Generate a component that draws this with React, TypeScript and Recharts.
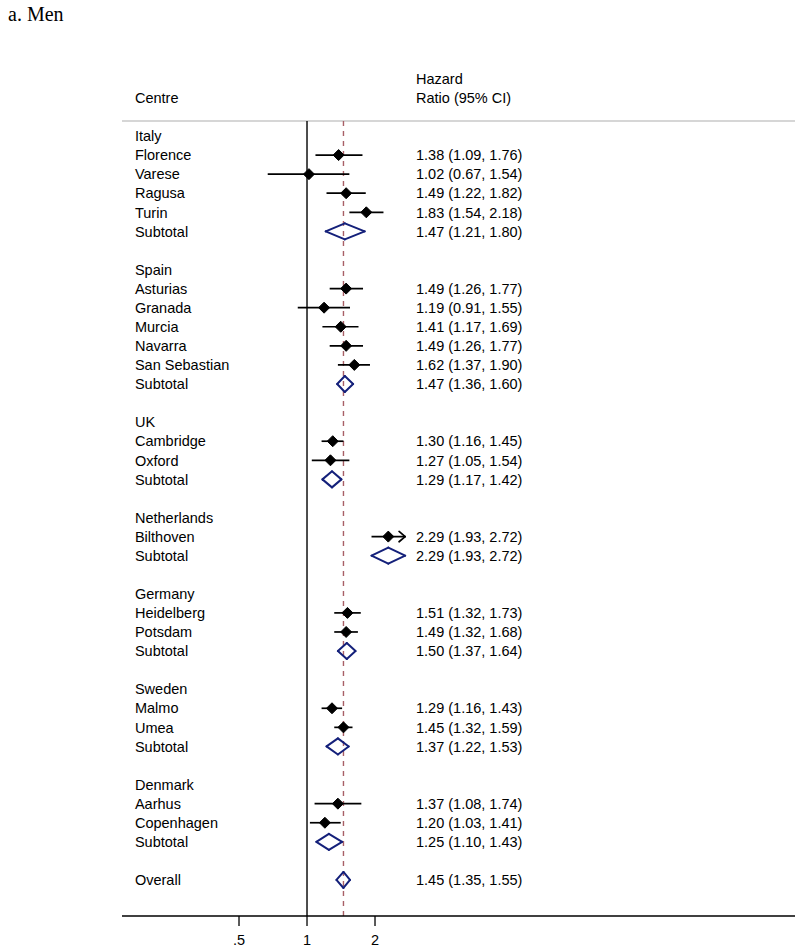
import { ComposedChart, XAxis, YAxis, Scatter, ReferenceLine } from "recharts";

// one entry per row of the forest plot, "" = spacer row
const centres = [
  "Italy", "Florence", "Varese", "Ragusa", "Turin", "Subtotal", "",
  "Spain", "Asturias", "Granada", "Murcia", "Navarra", "San Sebastian", "Subtotal", "",
  "UK", "Cambridge", "Oxford", "Subtotal", "",
  "Netherlands", "Bilthoven", "Subtotal", "",
  "Germany", "Heidelberg", "Potsdam", "Subtotal", "",
  "Sweden", "Malmo", "Umea", "Subtotal", "",
  "Denmark", "Aarhus", "Copenhagen", "Subtotal", "",
  "Overall",
];

const hazardRatio = [
  null, 1.38, 1.02, 1.49, 1.83, 1.47, null,
  null, 1.49, 1.19, 1.41, 1.49, 1.62, 1.47, null,
  null, 1.30, 1.27, 1.29, null,
  null, 2.29, 2.29, null,
  null, 1.51, 1.49, 1.50, null,
  null, 1.29, 1.45, 1.37, null,
  null, 1.37, 1.20, 1.25, null,
  1.45,
];

const lowerCI = [
  null, 1.09, 0.67, 1.22, 1.54, 1.21, null,
  null, 1.26, 0.91, 1.17, 1.26, 1.37, 1.36, null,
  null, 1.16, 1.05, 1.17, null,
  null, 1.93, 1.93, null,
  null, 1.32, 1.32, 1.37, null,
  null, 1.16, 1.32, 1.22, null,
  null, 1.08, 1.03, 1.10, null,
  1.35,
];

const upperCI = [
  null, 1.76, 1.54, 1.82, 2.18, 1.80, null,
  null, 1.77, 1.55, 1.69, 1.77, 1.90, 1.60, null,
  null, 1.45, 1.54, 1.42, null,
  null, 2.72, 2.72, null,
  null, 1.73, 1.68, 1.64, null,
  null, 1.43, 1.59, 1.53, null,
  null, 1.74, 1.41, 1.43, null,
  1.55,
];

const overallHR = 1.45;
const xTicks = [0.5, 1, 2];
const xTickLabels = [".5", "1", "2"];

// layout constants (log2 units on x, row units on y)
const X_DOMAIN = [-2.7206, 7.176];
const Y_DOMAIN = [-7.129, 40.889];
const TOP_RULE = -0.786;
const LABEL_X = -2.53;
const EST_X = 1.603;
const ARROW_ABOVE = 2.5;
const DIAMOND_H = 0.42;
const FONT = "'Liberation Sans', Arial, Helvetica, sans-serif";
const NAVY = "#14207a";

const log2 = (v: number) => Math.log2(v);
const fmt = (v: number) => v.toFixed(2);
const isPooled = (name: string) => name === "Subtotal" || name === "Overall";

const rows = centres.map((name, i) => ({
  name,
  row: i,
  hr: hazardRatio[i],
  lo: lowerCI[i],
  hi: upperCI[i],
}));

const studyRows = rows.filter((r) => r.hr != null && !isPooled(r.name));
const pooledRows = rows.filter((r) => r.hr != null && isPooled(r.name));

const markerData = studyRows.map((r) => ({ x: log2(r.hr as number), y: r.row }));
const labelData = rows
  .filter((r) => r.name !== "")
  .map((r) => ({ x: LABEL_X, y: r.row, text: r.name }));
const estData = rows
  .filter((r) => r.hr != null)
  .map((r) => ({
    x: EST_X,
    y: r.row,
    text: `${fmt(r.hr as number)} (${fmt(r.lo as number)}, ${fmt(r.hi as number)})`,
  }));
const headerData = [
  { x: LABEL_X, y: -2, text: "Centre" },
  { x: EST_X, y: -3, text: "Hazard" },
  { x: EST_X, y: -2, text: "Ratio (95% CI)" },
];

const TextShape = (props: any) => {
  const { cx, cy, payload } = props;
  return (
    <text x={cx} y={cy} dy="0.36em" fontSize={14.5} fontFamily={FONT} fill="#000" textAnchor="start">
      {payload.text}
    </text>
  );
};

const DiamondMarker = (props: any) => {
  const { cx, cy } = props;
  const s = 5.5;
  return (
    <polygon
      points={`${cx - s},${cy} ${cx},${cy - s} ${cx + s},${cy} ${cx},${cy + s}`}
      fill="#000"
      stroke="#000"
    />
  );
};

const tickLabel = (v: number) => {
  const idx = xTicks.findIndex((t) => Math.abs(log2(t) - v) < 1e-6);
  return idx >= 0 ? xTickLabels[idx] : "";
};

export default function App() {
  return (
    <div style={{ position: "absolute", top: 0, left: 0, width: 800, height: 951, background: "#fff" }}>
      <div
        style={{
          position: "absolute",
          left: 8,
          top: 4,
          fontSize: 20,
          lineHeight: "20px",
          fontFamily: "'Liberation Serif', 'Times New Roman', serif",
        }}
      >
        a. Men
      </div>
      <ComposedChart width={800} height={951} margin={{ top: 0, right: 5, bottom: 0, left: 122 }}>
        <XAxis
          dataKey="x"
          type="number"
          domain={X_DOMAIN}
          allowDataOverflow
          ticks={xTicks.map(log2)}
          tickFormatter={tickLabel}
          height={35}
          tickSize={10}
          tickMargin={9}
          axisLine={{ stroke: "#000", strokeWidth: 1.3 }}
          tickLine={{ stroke: "#000", strokeWidth: 1.3 }}
          tick={{ fill: "#000", fontSize: 14.5, fontFamily: FONT }}
        />
        <YAxis dataKey="y" type="number" domain={Y_DOMAIN} allowDataOverflow reversed hide />

        {/* header rule */}
        <ReferenceLine
          segment={[{ x: X_DOMAIN[0], y: TOP_RULE }, { x: X_DOMAIN[1], y: TOP_RULE }]}
          stroke="#c8c8c8"
          strokeWidth={1.3}
          ifOverflow="visible"
        />
        {/* null line */}
        <ReferenceLine
          segment={[{ x: 0, y: TOP_RULE }, { x: 0, y: Y_DOMAIN[1] }]}
          stroke="#000"
          strokeWidth={1.4}
          ifOverflow="visible"
        />
        {/* overall estimate */}
        <ReferenceLine
          segment={[{ x: log2(overallHR), y: TOP_RULE }, { x: log2(overallHR), y: Y_DOMAIN[1] }]}
          stroke="#a85f66"
          strokeWidth={1.4}
          strokeDasharray="5 5"
          ifOverflow="visible"
        />

        {/* study confidence intervals */}
        {studyRows.map((r) => (
          <ReferenceLine
            key={`ci-${r.row}`}
            segment={[{ x: log2(r.lo as number), y: r.row }, { x: log2(r.hi as number), y: r.row }]}
            stroke="#000"
            strokeWidth={1.7}
            ifOverflow="visible"
          />
        ))}
        {studyRows
          .filter((r) => (r.hi as number) > ARROW_ABOVE)
          .flatMap((r) => {
            const tip = log2(r.hi as number);
            return [-1, 1].map((d) => (
              <ReferenceLine
                key={`arrow-${r.row}-${d}`}
                segment={[{ x: tip - 0.09, y: r.row + d * 0.27 }, { x: tip, y: r.row }]}
                stroke="#000"
                strokeWidth={1.7}
                strokeLinecap="round"
                ifOverflow="visible"
              />
            ));
          })}

        {/* pooled diamonds */}
        {pooledRows.flatMap((r) => {
          const lo = log2(r.lo as number);
          const hi = log2(r.hi as number);
          const mid = log2(r.hr as number);
          const pts = [
            { x: lo, y: r.row },
            { x: mid, y: r.row - DIAMOND_H },
            { x: hi, y: r.row },
            { x: mid, y: r.row + DIAMOND_H },
          ];
          return pts.map((p, k) => (
            <ReferenceLine
              key={`dia-${r.row}-${k}`}
              segment={[p, pts[(k + 1) % 4]]}
              stroke={NAVY}
              strokeWidth={2}
              strokeLinecap="round"
              ifOverflow="visible"
            />
          ));
        })}

        <Scatter data={markerData} shape={<DiamondMarker />} isAnimationActive={false} />
        <Scatter data={labelData} shape={<TextShape />} isAnimationActive={false} />
        <Scatter data={estData} shape={<TextShape />} isAnimationActive={false} />
        <Scatter data={headerData} shape={<TextShape />} isAnimationActive={false} />
      </ComposedChart>
    </div>
  );
}
